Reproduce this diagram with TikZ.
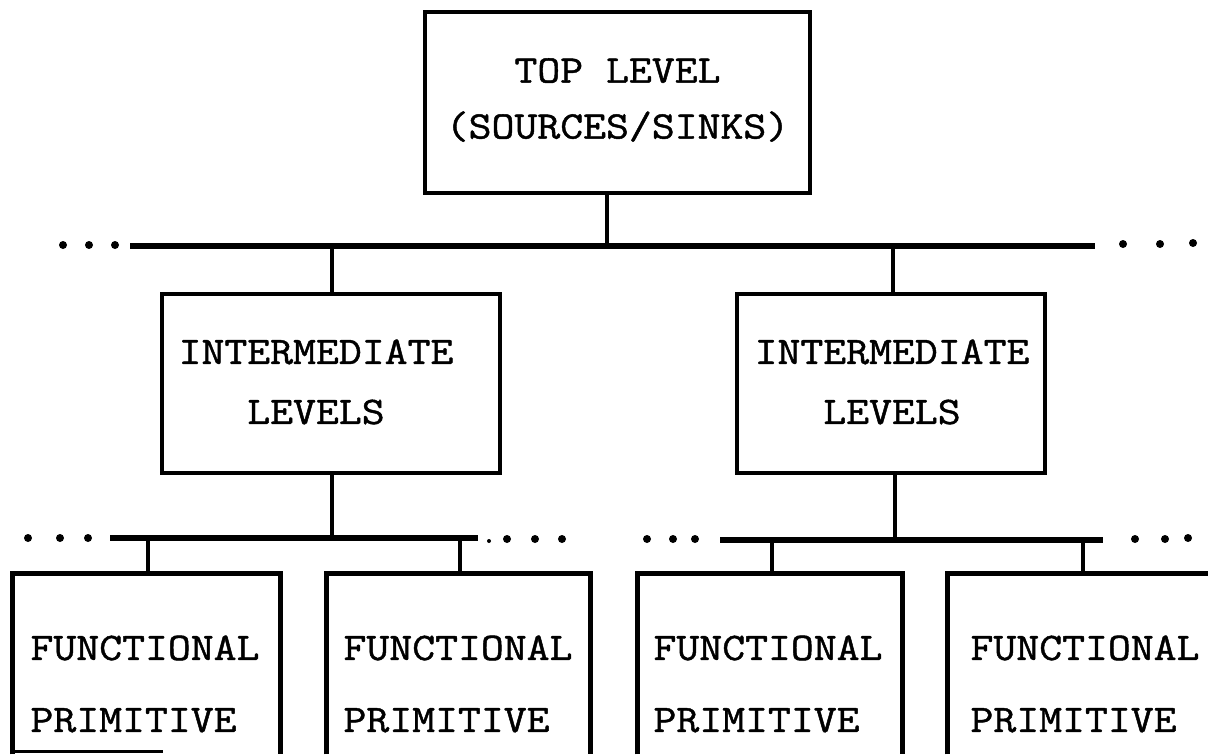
\documentclass[tikz,border=0pt]{standalone}
\usepackage{fontspec}
\newfontfamily\courfont{Latin Modern Mono}[FakeStretch=1.14,FakeBold=1.2]
\begin{document}
\begin{tikzpicture}[x=0.5pt,y=-0.5pt,
  lw/.style={line width=2.2pt},
  bus/.style={line width=2.6pt},
  boxnode/.style={draw, lw, rectangle, inner sep=0pt},
  opennode/.style={rectangle, inner sep=0pt},
  txt/.style={font=\courfont\fontsize{19.5}{#1}\selectfont, inner sep=0pt},
  dotnode/.style={circle, fill, inner sep=0pt, minimum size=4pt},
  smalldot/.style={circle, fill, inner sep=0pt, minimum size=2pt}]
\useasboundingbox (0,0) rectangle (1208,754);

% boxes
\node[boxnode, minimum width=192.5pt, minimum height=90.5pt] (top) at (617.5,102.5) {};
\node[boxnode, minimum width=169pt, minimum height=89.5pt] (int1) at (331,383.5) {};
\node[boxnode, minimum width=154pt, minimum height=89.5pt] (int2) at (891,383.5) {};
\node[opennode, minimum width=133.5pt, minimum height=90pt] (b1) at (146.5,664) {};
\node[opennode, minimum width=131.5pt, minimum height=90pt] (b2) at (458.5,664) {};
\node[opennode, minimum width=132pt, minimum height=90pt] (b3) at (770,664) {};
\node[opennode, minimum width=132pt, minimum height=90pt] (b4) at (1080,664) {};
\foreach \b in {b1,b2,b3,b4}
  \draw[lw] (\b.south west) -- (\b.north west) -- (\b.north east) -- (\b.south east);
\draw[line width=1.4pt] ([yshift=1.5pt]b1.south west) -- ++(75pt,0);

% texts
\node[txt=28pt, align=center] (t0) at (617.5,100) {TOP LEVEL\\(SOURCES/SINKS)};
\node[txt=30pt, align=center] (t1) at (316,382) {INTERMEDIATE\\LEVELS};
\node[txt=30pt, align=center] (t2) at (892,382) {INTERMEDIATE\\LEVELS};
\node[txt=36pt, align=left] (tb1) at (145,684) {FUNCTIONAL\\PRIMITIVE};
\node[txt=36pt, align=left] (tb2) at (458,684) {FUNCTIONAL\\PRIMITIVE};
\node[txt=36pt, align=left] (tb3) at (768,684) {FUNCTIONAL\\PRIMITIVE};
\node[txt=36pt, align=left] (tb4) at (1085,684) {FUNCTIONAL\\PRIMITIVE};

% top bus
\coordinate (busAl) at (130,246);
\coordinate (busAr) at (1095,246);
\coordinate (j0) at (607,246);
\coordinate (j1) at (332,246);
\coordinate (j2) at (893,246);
\draw[bus] (busAl) -- (busAr);
\draw[lw] (top.south -| j0) -- (j0);
\draw[lw] (j1) -- (j1 |- int1.north);
\draw[lw] (j2) -- (j2 |- int2.north);
\node[dotnode] (da1) at (63,245) {};
\node[dotnode] (da2) at (89,245) {};
\node[dotnode] (da3) at (115,245) {};
\node[dotnode] (da4) at (1123,244) {};
\node[dotnode] (da5) at (1160,244) {};
\node[dotnode] (da6) at (1193,243) {};

% lower buses
\coordinate (busBl) at (110,538);
\coordinate (busBr) at (478,538);
\coordinate (busCl) at (720,540);
\coordinate (busCr) at (1103,540);
\coordinate (k1) at (332,538);
\coordinate (k2) at (895,540);
\coordinate (m1) at (148,538);
\coordinate (m2) at (460,538);
\coordinate (m3) at (772,540);
\coordinate (m4) at (1083,540);
\draw[bus] (busBl) -- (busBr);
\draw[bus] (busCl) -- (busCr);
\draw[lw] (int1.south -| k1) -- (k1);
\draw[lw] (int2.south -| k2) -- (k2);
\draw[lw] (m1) -- (m1 |- b1.north);
\draw[lw] (m2) -- (m2 |- b2.north);
\draw[lw] (m3) -- (m3 |- b3.north);
\draw[lw] (m4) -- (m4 |- b4.north);
\node[dotnode] (db1) at (28,538) {};
\node[dotnode] (db2) at (60,538) {};
\node[dotnode] (db3) at (88,538) {};
\node[smalldot] (db4) at (489,541) {};
\node[dotnode] (db5) at (507,539) {};
\node[dotnode] (db6) at (535,539) {};
\node[dotnode] (db7) at (562,539) {};
\node[dotnode] (dc1) at (647,539) {};
\node[dotnode] (dc2) at (673,539) {};
\node[dotnode] (dc3) at (695,539) {};
\node[dotnode] (dc4) at (1135,539) {};
\node[dotnode] (dc5) at (1165,539) {};
\node[dotnode] (dc6) at (1188,538) {};
\end{tikzpicture}
\end{document}
